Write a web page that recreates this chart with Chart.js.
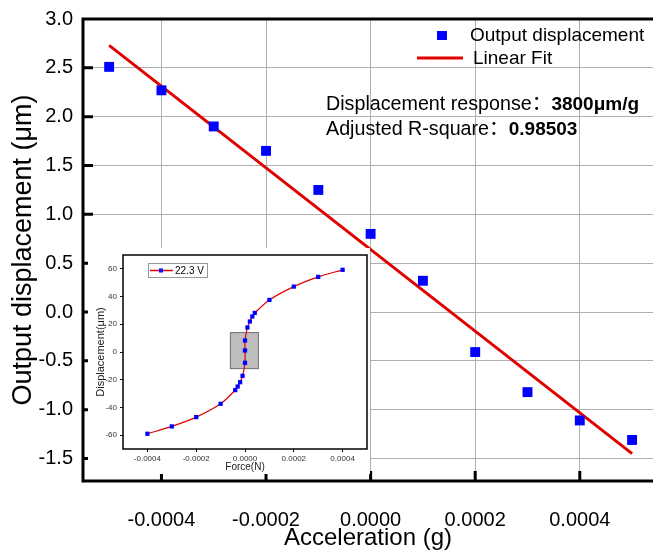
<!DOCTYPE html>
<html>
<head>
<meta charset="utf-8">
<script src="https://cdn.jsdelivr.net/npm/chart.js@4/dist/chart.umd.min.js"></script>
<style>
  html, body { margin: 0; padding: 0; background: #fff; overflow: hidden; }
  #wrap { position: relative; width: 653px; height: 550px; }
  #mainChart { position: absolute; left: 0; top: 0; }
  #insetChart { position: absolute; left: 88px; top: 248px; background: #fff; }
</style>
</head>
<body>
<div id="wrap">
  <canvas id="mainChart" width="653" height="550"></canvas>
  <canvas id="insetChart" width="282" height="226"></canvas>
</div>
<script>
// main chart: output displacement vs acceleration
const accel = [-0.0005, -0.0004, -0.0003, -0.0002, -0.0001, 0, 0.0001, 0.0002, 0.0003, 0.0004, 0.0005]
const displacement = [2.51, 2.27, 1.90, 1.65, 1.25, 0.80, 0.32, -0.41, -0.82, -1.11, -1.31]
const fitX = [-0.0005, 0.0005]
const fitY = [2.73, -1.45]
const xTicks = [-0.0004, -0.0002, 0, 0.0002, 0.0004]
const yTicks = [-1.5, -1.0, -0.5, 0, 0.5, 1.0, 1.5, 2.0, 2.5, 3.0]

// inset: displacement vs force at 22.3 V
const force = [-0.0004, -0.0003, -0.0002, -0.0001, -0.00004, -0.00003, -0.00002, -0.00001, 0, 0, 0,
  0.00001, 0.00002, 0.00003, 0.00004, 0.0001, 0.0002, 0.0003, 0.0004]
const insetDisp = [-59, -53.7, -47, -37.4, -27.5, -24.9, -21.8, -17.2, -7.8, 1.1, 8.3,
  17.7, 22, 25.6, 28.2, 37.6, 47.2, 54.2, 59.3]
const insetXTicks = [-0.0004, -0.0002, 0, 0.0002, 0.0004]
const insetYTicks = [-60, -40, -20, 0, 20, 40, 60]
const linearRegion = { xMin: -0.00006, xMax: 0.000055, yMin: -12, yMax: 14 }

const FONT = "'Liberation Sans', 'Noto Sans CJK SC', sans-serif"

function fixTicks(list) {
  return scale => { scale.ticks = list.map(v => ({ value: v })) }
}

// frame, inward ticks, legend and fit annotation
const mainDecor = {
  id: 'mainDecor',
  afterDraw(chart) {
    const { ctx, chartArea: a, scales: { x, y } } = chart
    ctx.save()
    ctx.strokeStyle = '#000'
    ctx.lineWidth = 3
    ctx.beginPath()
    ctx.moveTo(a.left - 1.5, a.top); ctx.lineTo(a.right + 2, a.top)
    ctx.moveTo(a.left, a.top); ctx.lineTo(a.left, a.bottom)
    ctx.moveTo(a.left - 1.5, a.bottom); ctx.lineTo(a.right + 2, a.bottom)
    yTicks.forEach(v => {
      if (v >= 3) return
      const py = y.getPixelForValue(v)
      ctx.moveTo(a.left, py); ctx.lineTo(a.left + 10, py)
    })
    xTicks.forEach(v => {
      const px = x.getPixelForValue(v)
      ctx.moveTo(px, a.bottom); ctx.lineTo(px, a.bottom - 10)
    })
    ctx.stroke()

    // legend
    ctx.fillStyle = '#0000ff'
    ctx.fillRect(437, 31, 10, 9)
    ctx.strokeStyle = '#e00000'
    ctx.lineWidth = 3
    ctx.beginPath(); ctx.moveTo(417, 58); ctx.lineTo(463, 58); ctx.stroke()
    ctx.fillStyle = '#000'
    ctx.textBaseline = 'middle'
    ctx.font = '19px ' + FONT
    ctx.fillText('Output displacement', 470, 36)
    ctx.fillText('Linear Fit', 473, 59)

    // annotation
    const lines = [['Displacement response：', '3800μm/g', 105], ['Adjusted R-square：', '0.98503', 130]]
    lines.forEach(([label, val, py]) => {
      ctx.font = '19.7px ' + FONT
      ctx.fillText(label, 326, py)
      const w = ctx.measureText(label).width
      ctx.font = 'bold 19px ' + FONT
      ctx.fillText(val, 326 + w, py)
    })
    ctx.restore()
  }
}

new Chart(document.getElementById('mainChart'), {
  type: 'scatter',
  data: {
    datasets: [{
      label: 'Output displacement',
      data: accel.map((v, i) => ({ x: v, y: displacement[i] })),
      pointStyle: 'rect',
      pointRadius: 7,
      pointHoverRadius: 7,
      backgroundColor: '#0000ff',
      borderColor: '#0000ff',
      pointBorderWidth: 0,
      order: 1
    }, {
      label: 'Linear Fit',
      data: fitX.map((v, i) => ({ x: v, y: fitY[i] })),
      showLine: true,
      borderColor: '#e00000',
      borderWidth: 3,
      pointRadius: 0,
      order: 2
    }]
  },
  options: {
    responsive: false,
    animation: false,
    devicePixelRatio: 1,
    layout: { autoPadding: false, padding: { top: 19, right: 0, left: 0, bottom: 0 } },
    plugins: { legend: { display: false }, tooltip: { enabled: false } },
    scales: {
      x: {
        type: 'linear',
        min: -0.00055,
        max: 0.00054,
        afterBuildTicks: fixTicks(xTicks),
        afterFit: s => { s.height = 69; s.paddingLeft = 0; s.paddingRight = 0 },
        grid: { color: '#b0b0b0', lineWidth: 1, drawTicks: false },
        border: { display: false },
        ticks: {
          padding: 27,
          color: '#000',
          font: { family: FONT, size: 20 },
          maxRotation: 0,
          callback: v => (Math.abs(v) < 1e-12 ? 0 : v).toFixed(4)
        },
        title: {
          display: true,
          text: 'Acceleration (g)',
          color: '#000',
          font: { family: FONT, size: 24 },
          padding: { top: 0, bottom: -3 }
        }
      },
      y: {
        min: -1.73,
        max: 3.0,
        afterBuildTicks: fixTicks(yTicks),
        afterFit: s => { s.width = 83; s.paddingTop = 0; s.paddingBottom = 0 },
        grid: { color: '#b0b0b0', lineWidth: 1, drawTicks: false },
        border: { display: false },
        ticks: {
          padding: 10,
          color: '#000',
          font: { family: FONT, size: 20 },
          callback: v => v.toFixed(1)
        },
        title: {
          display: true,
          text: 'Output displacement (μm)',
          color: '#000',
          font: { family: FONT, size: 27 },
          padding: { top: 7, bottom: 0 }
        }
      }
    }
  },
  plugins: [mainDecor]
})

// inset: shaded linear region, frame and legend
const insetDecor = {
  id: 'insetDecor',
  beforeDatasetsDraw(chart) {
    const { ctx, scales: { x, y } } = chart
    const x0 = x.getPixelForValue(linearRegion.xMin)
    const x1 = x.getPixelForValue(linearRegion.xMax)
    const y0 = y.getPixelForValue(linearRegion.yMax)
    const y1 = y.getPixelForValue(linearRegion.yMin)
    ctx.save()
    ctx.fillStyle = '#bdbdbd'
    ctx.strokeStyle = '#707070'
    ctx.lineWidth = 1
    ctx.fillRect(x0, y0, x1 - x0, y1 - y0)
    ctx.strokeRect(x0, y0, x1 - x0, y1 - y0)
    ctx.restore()
  },
  afterDraw(chart) {
    const { ctx, chartArea: a } = chart
    ctx.save()
    ctx.strokeStyle = '#000'
    ctx.lineWidth = 1.5
    ctx.strokeRect(a.left, a.top, a.right - a.left, a.bottom - a.top)
    // legend
    ctx.strokeStyle = '#999'
    ctx.lineWidth = 1
    ctx.strokeRect(60.5, 15.5, 59, 14)
    ctx.strokeStyle = '#e00000'
    ctx.lineWidth = 1.5
    ctx.beginPath(); ctx.moveTo(62, 22.5); ctx.lineTo(85, 22.5); ctx.stroke()
    ctx.fillStyle = '#0000ff'
    ctx.fillRect(71, 20.5, 4, 4)
    ctx.fillStyle = '#000'
    ctx.font = '10px ' + FONT
    ctx.textBaseline = 'middle'
    ctx.fillText('22.3 V', 87, 23)
    ctx.restore()
  }
}

new Chart(document.getElementById('insetChart'), {
  type: 'scatter',
  data: {
    datasets: [{
      label: '22.3 V',
      data: force.map((v, i) => ({ x: v, y: insetDisp[i] })),
      showLine: true,
      tension: 0.3,
      borderColor: '#e00000',
      borderWidth: 1.2,
      pointStyle: 'rect',
      pointRadius: 3,
      pointHoverRadius: 3,
      pointBackgroundColor: '#0000ff',
      pointBorderColor: '#0000ff',
      pointBorderWidth: 0
    }]
  },
  options: {
    responsive: false,
    animation: false,
    devicePixelRatio: 1,
    layout: { autoPadding: false, padding: { top: 7, right: 3, left: 0, bottom: 0 } },
    plugins: { legend: { display: false }, tooltip: { enabled: false } },
    scales: {
      x: {
        type: 'linear',
        min: -0.0005,
        max: 0.0005,
        afterBuildTicks: fixTicks(insetXTicks),
        afterFit: s => { s.height = 25; s.paddingLeft = 0; s.paddingRight = 0 },
        grid: { drawOnChartArea: false, color: '#000', tickLength: 3 },
        border: { display: false },
        ticks: {
          padding: 2,
          color: '#333',
          font: { family: FONT, size: 8 },
          maxRotation: 0,
          callback: v => (Math.abs(v) < 1e-12 ? 0 : v).toFixed(4)
        },
        title: {
          display: true,
          text: 'Force(N)',
          color: '#222',
          font: { family: FONT, size: 10 },
          padding: { top: 0, bottom: 1 }
        }
      },
      y: {
        min: -70,
        max: 70,
        afterBuildTicks: fixTicks(insetYTicks),
        afterFit: s => { s.width = 35; s.paddingTop = 0; s.paddingBottom = 0 },
        grid: { drawOnChartArea: false, color: '#000', tickLength: 3 },
        border: { display: false },
        ticks: {
          padding: 3,
          color: '#333',
          font: { family: FONT, size: 8 }
        },
        title: {
          display: true,
          text: 'Displacement(μm)',
          color: '#222',
          font: { family: FONT, size: 11 },
          padding: { top: 6, bottom: 0 }
        }
      }
    }
  },
  plugins: [insetDecor]
})
</script>
</body>
</html>
